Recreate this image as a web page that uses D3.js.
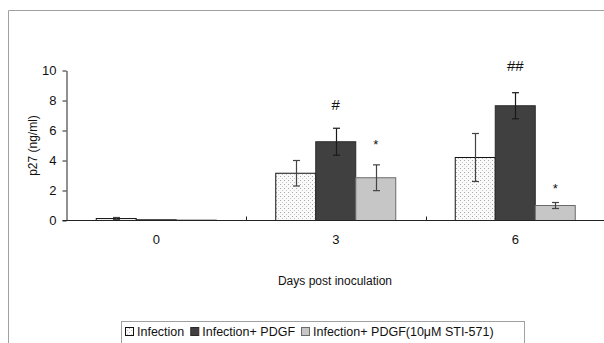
<!DOCTYPE html>
<html>
<head>
<meta charset="utf-8">
<script src="https://cdn.jsdelivr.net/npm/d3@7"></script>
<style>
  html, body { margin: 0; padding: 0; background: #fff; }
  svg { display: block; font-family: "Liberation Sans", Arial, sans-serif; }
</style>
</head>
<body>
<div id="chart"></div>
<script>
// p27 concentration by day, three treatment groups
const days = ['0', '3', '6'];
const series = ['Infection', 'Infection+ PDGF', 'Infection+ PDGF(10\u03bcM STI-571)'];
const means = [
  [0.13, 3.15, 4.2],   // Infection
  [0.05, 5.25, 7.65],  // Infection+ PDGF
  [0.03, 2.85, 1.0]    // + STI-571
];
const errs = [
  [0.07, 0.85, 1.6],
  [0.0, 0.9, 0.87],
  [0.0, 0.86, 0.2]
];
// significance marks: [series index, day index, label, y value of baseline]
const marks = [
  [1, 1, '#', 7.35],
  [1, 2, '##', 9.95],
  [2, 1, '*', 4.75],
  [2, 2, '*', 1.85]
];
const yTicks = [0, 2, 4, 6, 8, 10];

const width = 604, height = 343;
const svg = d3.select('#chart').append('svg')
  .attr('width', width).attr('height', height);

// dotted fill for the first series
const defs = svg.append('defs');
const pat = defs.append('pattern')
  .attr('id', 'dots').attr('patternUnits', 'userSpaceOnUse')
  .attr('width', 4).attr('height', 4);
pat.append('rect').attr('width', 4).attr('height', 4).attr('fill', '#fafafa');
pat.append('rect').attr('x', 0).attr('y', 0).attr('width', 1).attr('height', 1).attr('fill', '#a8a8a8');
pat.append('rect').attr('x', 2).attr('y', 2).attr('width', 1).attr('height', 1).attr('fill', '#c8c8c8');

const fills = ['url(#dots)', '#404040', '#c6c6c6'];
const strokes = ['#111', '#2a2a2a', '#6a6a6a'];
const font = '"Liberation Sans", Arial, sans-serif';

// outer frame
svg.append('path')
  .attr('d', `M8.5,${height} V10.5 H${width}`)
  .attr('fill', 'none').attr('stroke', '#a0a0a0').attr('stroke-width', 1);

const x = d3.scaleBand().domain(days).range([66.5, 605]);
const groupW = 120;
const xs = d3.scaleBand().domain(d3.range(series.length))
  .range([(x.bandwidth() - groupW) / 2, (x.bandwidth() + groupW) / 2]);
const y = d3.scaleLinear().domain([0, 10]).range([220.5, 70.5]);

// y axis
const yAxis = svg.append('g')
  .attr('transform', 'translate(66.5,0)')
  .call(d3.axisLeft(y).tickValues(yTicks).tickSize(4).tickSizeOuter(0).tickPadding(6));
yAxis.select('.domain').attr('stroke', '#222');
yAxis.selectAll('line').attr('stroke', '#222');
yAxis.selectAll('text').attr('font-size', '13px').attr('fill', '#111').attr('font-family', font);

// bars
days.forEach((d, di) => {
  series.forEach((s, si) => {
    const v = means[si][di];
    svg.append('rect')
      .attr('x', x(d) + xs(si))
      .attr('y', y(v))
      .attr('width', xs.bandwidth())
      .attr('height', y(0) - y(v))
      .attr('fill', fills[si])
      .attr('stroke', strokes[si])
      .attr('stroke-width', 1);
  });
});

// error bars
days.forEach((d, di) => {
  series.forEach((s, si) => {
    const e = errs[si][di];
    if (e <= 0) return;
    const v = means[si][di];
    const cx = Math.round(x(d) + xs(si) + xs.bandwidth() / 2) + 0.5;
    const lo = y(Math.max(0, v - e)), hi = y(v + e);
    const g = svg.append('g').attr('stroke', si === 1 ? '#1a1a1a' : '#444').attr('stroke-width', 1.2);
    g.append('line').attr('x1', cx).attr('x2', cx).attr('y1', hi).attr('y2', lo);
    g.append('line').attr('x1', cx - 3.5).attr('x2', cx + 3.5).attr('y1', hi).attr('y2', hi);
    g.append('line').attr('x1', cx - 3.5).attr('x2', cx + 3.5).attr('y1', lo).attr('y2', lo);
  });
});

// x axis line and category separators
svg.append('line')
  .attr('x1', 62.5).attr('x2', width).attr('y1', y(0)).attr('y2', y(0))
  .attr('stroke', '#222');
days.slice(1).forEach(d => {
  svg.append('line')
    .attr('x1', Math.round(x(d)) + 0.5).attr('x2', Math.round(x(d)) + 0.5)
    .attr('y1', y(0)).attr('y2', y(0) - 4)
    .attr('stroke', '#222');
});
const xAxis = svg.append('g')
  .attr('transform', `translate(0,${y(0)})`)
  .call(d3.axisBottom(x).tickSize(0).tickPadding(14));
xAxis.select('.domain').remove();
xAxis.selectAll('text').attr('font-size', '13px').attr('fill', '#111').attr('font-family', font);

// significance marks
marks.forEach(([si, di, label, v]) => {
  svg.append('text')
    .attr('x', x(days[di]) + xs(si) + xs.bandwidth() / 2)
    .attr('y', y(v))
    .attr('text-anchor', 'middle')
    .attr('font-size', label === '*' ? '13px' : '15px')
    .attr('fill', '#111')
    .text(label);
});

// axis titles
svg.append('text')
  .attr('x', 335).attr('y', 285)
  .attr('text-anchor', 'middle').attr('font-size', '12px').attr('fill', '#111')
  .text('Days post inoculation');
svg.append('text')
  .attr('transform', `translate(37,${y(5)}) rotate(-90)`)
  .attr('text-anchor', 'middle').attr('font-size', '12px').attr('fill', '#111')
  .text('p27 (ng/ml)');

// legend
svg.append('rect')
  .attr('x', 121.5).attr('y', 321.5).attr('width', 403).attr('height', 30)
  .attr('fill', 'none').attr('stroke', '#a0a0a0');
const legend = svg.append('g').attr('transform', 'translate(125,0)');
let lx = 0;
series.forEach((s, si) => {
  legend.append('rect')
    .attr('x', lx + 0.5).attr('y', 327.5).attr('width', 8).attr('height', 8)
    .attr('fill', fills[si]).attr('stroke', strokes[si]);
  const t = legend.append('text')
    .attr('x', lx + 12).attr('y', 336)
    .attr('font-size', '12.5px').attr('fill', '#111')
    .text(s);
  lx += 12 + t.node().getComputedTextLength() + 6;
});
</script>
</body>
</html>
